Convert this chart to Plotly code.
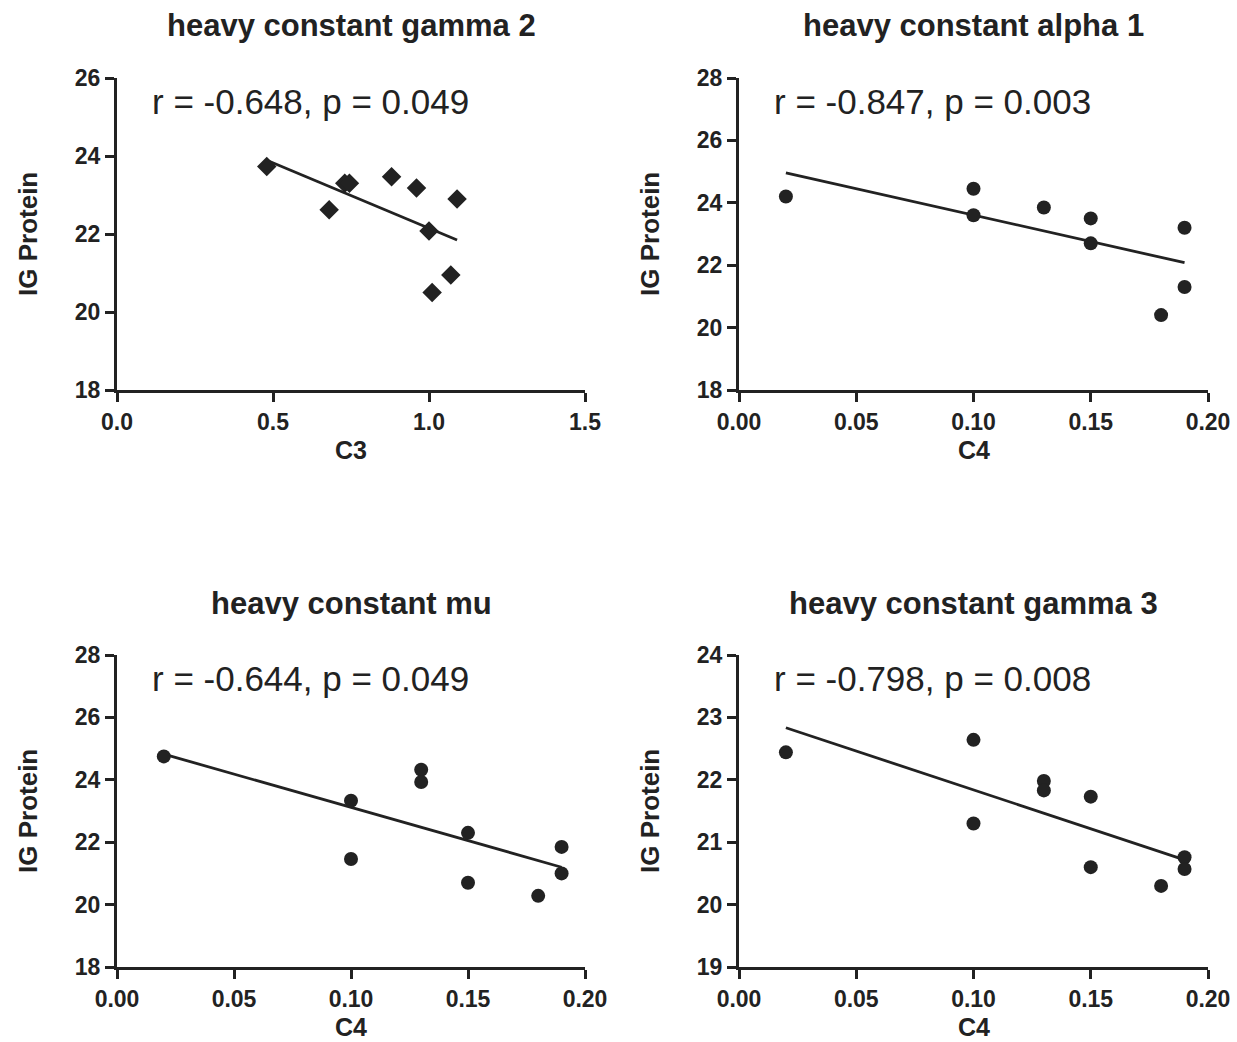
import numpy as np
import plotly.graph_objects as go

# ---- data ----
titles = ["heavy constant gamma 2", "heavy constant alpha 1", "heavy constant mu", "heavy constant gamma 3"]
stats = ["r = -0.648, p = 0.049", "r = -0.847, p = 0.003", "r = -0.644, p = 0.049", "r = -0.798, p = 0.008"]
x_titles = ["C3", "C4", "C4", "C4"]
y_title = "IG Protein"

c3_gamma2 = [0.48, 0.73, 0.745, 0.68, 0.88, 0.96, 1.09, 1.00, 1.07, 1.01]
ig_gamma2 = [23.73, 23.30, 23.30, 22.62, 23.47, 23.18, 22.90, 22.08, 20.95, 20.50]

c4_alpha1 = [0.02, 0.10, 0.10, 0.13, 0.15, 0.15, 0.19, 0.19, 0.18]
ig_alpha1 = [24.20, 24.45, 23.60, 23.85, 23.50, 22.70, 23.20, 21.30, 20.40]

c4_mu = [0.02, 0.10, 0.10, 0.13, 0.13, 0.15, 0.15, 0.19, 0.19, 0.18]
ig_mu = [24.75, 23.33, 21.46, 24.32, 23.93, 22.30, 20.70, 21.85, 21.00, 20.28]

c4_gamma3 = [0.02, 0.10, 0.10, 0.13, 0.13, 0.15, 0.15, 0.19, 0.19, 0.18]
ig_gamma3 = [22.44, 22.64, 21.30, 21.98, 21.83, 21.73, 20.60, 20.76, 20.57, 20.30]

xs = [c3_gamma2, c4_alpha1, c4_mu, c4_gamma3]
ys = [ig_gamma2, ig_alpha1, ig_mu, ig_gamma3]
symbols = ["diamond", "circle", "circle", "circle"]

x_ranges = [[0, 1.5], [0, 0.2], [0, 0.2], [0, 0.2]]
x_dticks = [0.5, 0.05, 0.05, 0.05]
x_formats = [".1f", ".2f", ".2f", ".2f"]
y_ranges = [[18, 26], [18, 28], [18, 28], [19, 24]]
y_dticks = [2, 2, 2, 1]

# ---- layout geometry (page pixels) ----
W, H = 1237, 1042


def px_x(p):
    return p / W


def px_y(p):
    return 1 - p / H


x_domains = [[px_x(117), px_x(585)], [px_x(739), px_x(1208)], [px_x(117), px_x(585)], [px_x(739), px_x(1208)]]
y_domains = [[px_y(390), px_y(78)], [px_y(390), px_y(78)], [px_y(967), px_y(655)], [px_y(967), px_y(655)]]

ink = "#222222"
font_family = "Arial, Liberation Sans, Helvetica, sans-serif"

fig = go.Figure()
layout = dict(
    width=W, height=H, margin=dict(l=0, r=0, t=0, b=0, autoexpand=False),
    paper_bgcolor="white", plot_bgcolor="white", showlegend=False,
    font=dict(family=font_family, color=ink),
)
annotations = []

for i in range(4):
    xa = "x" if i == 0 else f"x{i+1}"
    ya = "y" if i == 0 else f"y{i+1}"
    xname = "xaxis" if i == 0 else f"xaxis{i+1}"
    yname = "yaxis" if i == 0 else f"yaxis{i+1}"
    x = np.array(xs[i])
    y = np.array(ys[i])
    slope, intercept = np.polyfit(x, y, 1)
    lx = np.array([x.min(), x.max()])
    fig.add_trace(go.Scatter(x=lx, y=slope * lx + intercept, mode="lines",
                             line=dict(color=ink, width=2.8), xaxis=xa, yaxis=ya,
                             hoverinfo="skip"))
    fig.add_trace(go.Scatter(x=x, y=y, mode="markers", xaxis=xa, yaxis=ya,
                             marker=dict(symbol=symbols[i], size=14 if symbols[i] == "circle" else 15,
                                         color=ink, line=dict(width=0)),
                             cliponaxis=False))
    layout[xname] = dict(
        domain=x_domains[i], anchor=ya, range=x_ranges[i], dtick=x_dticks[i], tick0=0,
        tickformat=x_formats[i], showgrid=False, zeroline=False, showline=True, automargin=False,
        linecolor=ink, linewidth=3, ticks="outside", ticklen=9, tickwidth=3, tickcolor=ink,
        tickfont=dict(size=23, family=font_family, color=ink, weight="bold"),
    )
    layout[yname] = dict(
        domain=y_domains[i], anchor=xa, range=y_ranges[i], dtick=y_dticks[i], tick0=0,
        showgrid=False, zeroline=False, showline=True, automargin=False,
        linecolor=ink, linewidth=3, ticks="outside", ticklen=9, tickwidth=3, tickcolor=ink,
        tickfont=dict(size=23, family=font_family, color=ink, weight="bold"),
    )
    xc = (x_domains[i][0] + x_domains[i][1]) / 2
    top_px = 78 if i < 2 else 655
    bottom_px = 390 if i < 2 else 967
    left_px = 117 if i % 2 == 0 else 739
    # panel title
    annotations.append(dict(text=titles[i], xref="paper", yref="paper", x=xc,
                            y=px_y(25 if i < 2 else 603), xanchor="center", yanchor="middle",
                            showarrow=False, font=dict(size=31, weight="bold", color=ink, family=font_family)))
    # stats text
    annotations.append(dict(text=stats[i], xref="paper", yref="paper", x=px_x(left_px + 33),
                            y=px_y(top_px + 23), xanchor="left", yanchor="middle",
                            showarrow=False, font=dict(size=35, color=ink, family=font_family)))
    # x axis title
    annotations.append(dict(text=x_titles[i], xref="paper", yref="paper", x=xc,
                            y=px_y(bottom_px + 60), xanchor="center", yanchor="middle",
                            showarrow=False, font=dict(size=25, weight="bold", color=ink, family=font_family)))
    # y axis title
    annotations.append(dict(text=y_title, xref="paper", yref="paper", x=px_x(left_px - 89),
                            y=px_y((top_px + bottom_px) / 2), xanchor="center", yanchor="middle",
                            textangle=-90, showarrow=False,
                            font=dict(size=26, weight="bold", color=ink, family=font_family)))

layout["annotations"] = annotations
fig.update_layout(**layout)
fig.write_html("out.html", config={"displayModeBar": False},
               post_script="document.body.style.margin='0';document.body.style.overflow='hidden';")
